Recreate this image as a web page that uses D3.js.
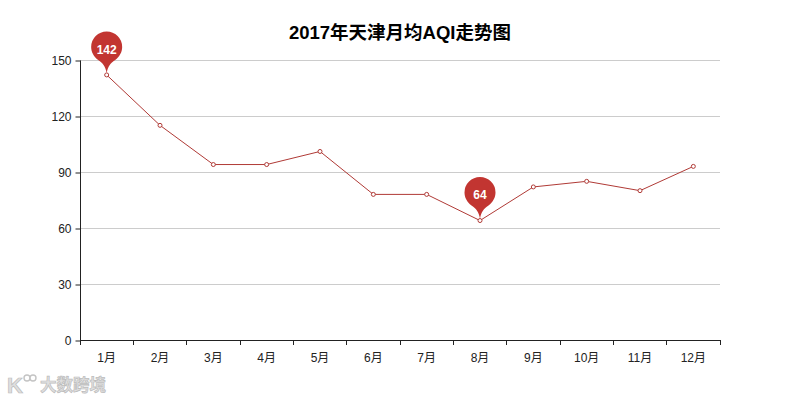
<!DOCTYPE html>
<html><head><meta charset="utf-8">
<script src="https://cdn.jsdelivr.net/npm/d3@7"></script>
<style>html,body{margin:0;padding:0;background:#fff}svg{display:block}text{font-family:"Liberation Sans","Noto Sans CJK SC",sans-serif}</style>
</head><body><div id="c"></div>
<script>
const months=["1月","2月","3月","4月","5月","6月","7月","8月","9月","10月","11月","12月"];
const aqi=[142,115,94,94,101,78,78,64,82,85,80,93];
const yTicks=[0,30,60,90,120,150];
const pinned=[0,7];
const titleText="2017年天津月均AQI走势图";
const watermark="大数跨境";
const W=800,H=400,L=80,R=720,T=60,B=340;
const svg=d3.select("#c").append("svg").attr("width",W).attr("height",H);
const x=d3.scaleBand().domain(months).range([L,R]);
const y=d3.scaleLinear().domain([0,150]).range([B,T]);
const ink="#222";
svg.append("g").selectAll("line").data(yTicks.filter(d=>d>0)).join("line")
 .attr("x1",L).attr("x2",R).attr("y1",d=>y(d)+.5).attr("y2",d=>y(d)+.5).attr("stroke","#ccc");
const ya=svg.append("g").attr("transform",`translate(${L+.5},0.5)`).call(d3.axisLeft(y).tickValues(yTicks).tickSize(5).tickPadding(4));
const xa=svg.append("g").attr("transform",`translate(0,${B+.5})`).call(d3.axisBottom(x).tickSize(0).tickPadding(13));
svg.append("g").selectAll("line").data(d3.range(13)).join("line")
 .attr("x1",i=>Math.floor(L+i*x.step())+.5).attr("x2",i=>Math.floor(L+i*x.step())+.5)
 .attr("y1",B).attr("y2",B+5).attr("stroke",ink);
[ya,xa].forEach(a=>{a.selectAll("text").attr("fill",ink).attr("font-size",12);a.selectAll("line").attr("stroke",ink)});
ya.select("path").attr("stroke",ink).attr("d",`M0,${T}V${B}`);
xa.select("path").attr("stroke",ink).attr("d",`M${L},0H${R}`);
const cx=d=>x(d)+x.bandwidth()/2;
const line=d3.line().x((d,i)=>cx(months[i])).y(d=>y(d));
svg.append("path").datum(aqi).attr("d",line).attr("fill","none").attr("stroke","#b03a36").attr("stroke-width",1);
svg.append("g").selectAll("circle").data(aqi).join("circle")
 .attr("cx",(d,i)=>cx(months[i])).attr("cy",d=>y(d)).attr("r",2)
 .attr("fill","#fff").attr("stroke","#b03a36").attr("stroke-width",1);
const pin=svg.append("g").selectAll("g").data(pinned).join("g")
 .attr("transform",i=>`translate(${cx(months[i])},${y(aqi[i])})`);
pin.append("path").attr("fill","#c23531")
 .attr("d","M0,-2C-1.5,-9 -3.5,-11.5 -8.5,-15C-13,-18.5 -15.5,-23 -15.5,-28A15.5,15.5 0 1 1 15.5,-28C15.5,-23 13,-18.5 8.5,-15C3.5,-11.5 1.5,-9 0,-2Z");
pin.append("text").text(i=>aqi[i]).attr("y",-25.5).attr("dy","0.36em").attr("text-anchor","middle")
 .attr("fill","#fff").attr("font-size",12).attr("font-weight","bold");
svg.append("text").text(titleText).attr("x",400).attr("y",39).attr("text-anchor","middle")
 .attr("font-size",18.5).attr("font-weight","bold").attr("fill","#000");
const wm=svg.append("g").attr("fill","#e0e0e0").attr("stroke","#bdbdbd").attr("stroke-width",.7);
wm.append("text").text("K").attr("x",7).attr("y",393).attr("font-size",22).attr("font-weight","bold");
wm.append("circle").attr("cx",27).attr("cy",378).attr("r",3).attr("fill","#fff").attr("stroke","#c4c4c4").attr("stroke-width",1.4);
wm.append("circle").attr("cx",33).attr("cy",378).attr("r",3).attr("fill","#fff").attr("stroke","#c4c4c4").attr("stroke-width",1.4);
wm.append("text").text(watermark).attr("x",40).attr("y",391).attr("font-size",16.5).attr("font-weight","bold");
</script></body></html>
